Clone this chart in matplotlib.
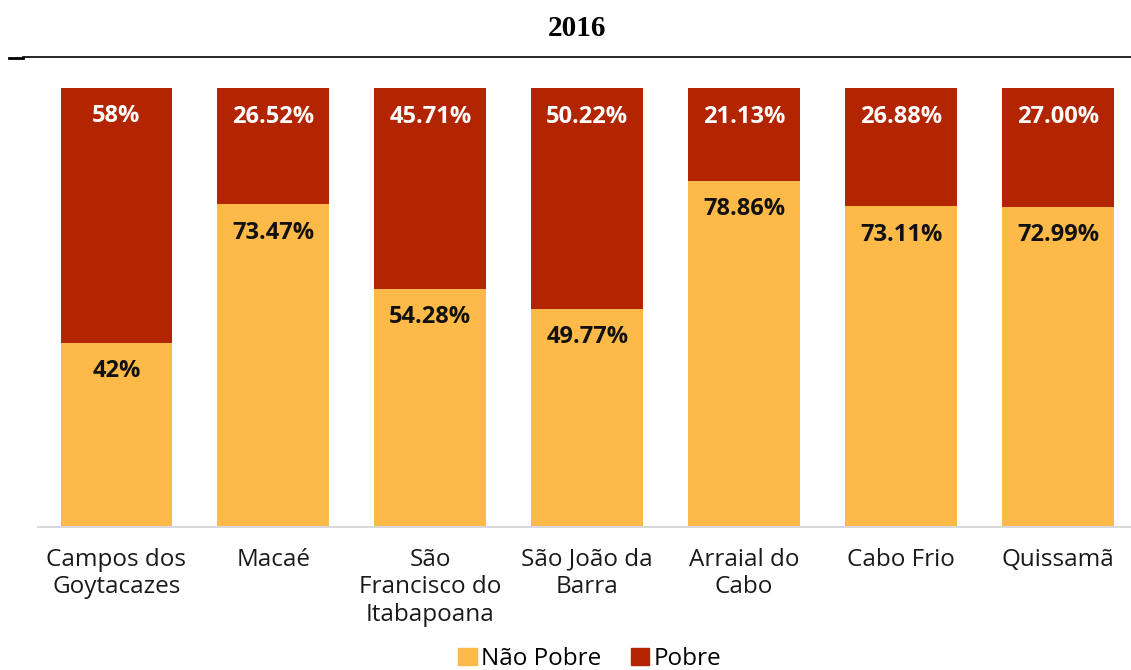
import matplotlib
matplotlib.use("Agg")
import matplotlib.pyplot as plt
from matplotlib.patches import Patch
from matplotlib.lines import Line2D

categories = ["Campos dos\nGoytacazes", "Macaé", "São\nFrancisco do\nItabapoana",
              "São João da\nBarra", "Arraial do\nCabo", "Cabo Frio", "Quissamã"]
nao_pobre = [42, 73.47, 54.28, 49.77, 78.86, 73.11, 72.99]
pobre = [58, 26.52, 45.71, 50.22, 21.13, 26.88, 27.00]
nao_pobre_labels = ["42%", "73.47%", "54.28%", "49.77%", "78.86%", "73.11%", "72.99%"]
pobre_labels = ["58%", "26.52%", "45.71%", "50.22%", "21.13%", "26.88%", "27.00%"]
series_names = ["Não Pobre", "Pobre"]

YELLOW = "#FDBA48"
RED = "#B22500"
FONT = ["Open Sans", "DejaVu Sans"]

W, H = 1131, 670
fig = plt.figure(figsize=(W / 100, H / 100), dpi=100)
left_px, right_px = 38, 1136.5
bottom_px, top_px = 527, 88
ax = fig.add_axes([left_px / W, (H - bottom_px) / H, (right_px - left_px) / W, (bottom_px - top_px) / H])

x = list(range(len(categories)))
bw = 0.713
ax.bar(x, nao_pobre, width=bw, color=YELLOW, label=series_names[0])
ax.bar(x, pobre, width=bw, bottom=nao_pobre, color=RED, label=series_names[1])

for i in x:
    ax.annotate(nao_pobre_labels[i], (i, nao_pobre[i]), xytext=(0, -20.5), textcoords="offset points",
                ha="center", va="center", fontsize=17, fontweight="bold", color="#111111", family=FONT)
    ax.annotate(pobre_labels[i], (i, nao_pobre[i] + pobre[i]), xytext=(0, -20.5), textcoords="offset points",
                ha="center", va="center", fontsize=17, fontweight="bold", color="white", family=FONT)

ax.set_xlim(-0.5, 6.5)
ax.set_ylim(0, 100)
ax.set_yticks([])
ax.set_xticks(x)
ax.set_xticklabels(categories, fontsize=17.5, color="#1a1a1a", family=FONT, linespacing=1.2)
ax.tick_params(axis="x", length=0, pad=15)
for s in ["top", "right", "left"]:
    ax.spines[s].set_visible(False)
ax.spines["bottom"].set_color("#d9d9d9")
ax.spines["bottom"].set_linewidth(1.5)

fig.text(577 / W, 1 - 28 / H, "2016", ha="center", va="center", fontsize=21, fontweight="bold",
         family=["Liberation Serif", "DejaVu Serif"], color="black")
fig.add_artist(Line2D([23 / W, 1.0], [1 - 57 / H, 1 - 57 / H], color="black", lw=1.2, transform=fig.transFigure))
fig.add_artist(Line2D([9 / W, 23 / W], [1 - 58 / H, 1 - 58 / H], color="black", lw=2, transform=fig.transFigure))

handles = [Patch(color=YELLOW), Patch(color=RED)]
fig.legend(handles, series_names, loc="center", bbox_to_anchor=(590 / W, 1 - 659 / H), ncol=2, frameon=False,
           prop={"family": FONT, "size": 17.5}, handlelength=0.75, handleheight=0.75, handletextpad=0.2,
           columnspacing=1.2)

fig.savefig("out.png", dpi=100)
